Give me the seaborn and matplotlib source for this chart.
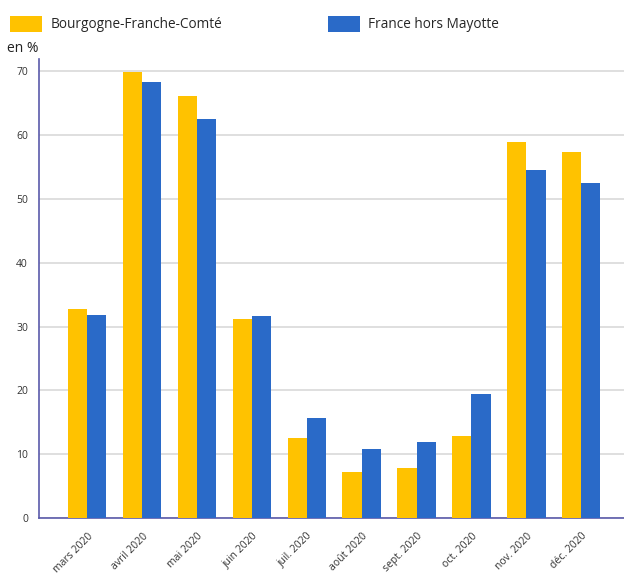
import matplotlib
matplotlib.use("Agg")
import matplotlib.pyplot as plt
import seaborn as sns
import pandas as pd
from matplotlib.patches import Patch

months = ["mars 2020", "avril 2020", "mai 2020", "juin 2020", "juil. 2020",
          "août 2020", "sept. 2020", "oct. 2020", "nov. 2020", "déc. 2020"]
bfc = [32.7, 69.8, 66.0, 31.2, 12.5, 7.3, 7.8, 12.9, 58.9, 57.3]
france = [31.8, 68.2, 62.5, 31.6, 15.7, 10.9, 11.9, 19.4, 54.5, 52.5]
series_names = ["Bourgogne-Franche-Comté", "France hors Mayotte"]
colors = ["#FFC200", "#2A6AC8"]

df = pd.DataFrame({
    "mois": months * 2,
    "valeur": bfc + france,
    "serie": [series_names[0]] * len(months) + [series_names[1]] * len(months),
})

sns.set_style("white")
plt.rcParams["font.family"] = ["Open Sans", "DejaVu Sans"]

fig = plt.figure(figsize=(6.24, 5.74), dpi=100)
ax = fig.add_axes([39 / 624, 55.7 / 574, 1 - 39 / 624, 459 / 574])

sns.barplot(data=df, x="mois", y="valeur", hue="serie", palette=colors,
            saturation=1, width=0.7, ax=ax, legend=False, zorder=3,
            linewidth=0, edgecolor="none")

ax.set_xlim(-0.88, 9.78)
ax.set_ylim(0, 71.8)
ax.set_yticks([0, 10, 20, 30, 40, 50, 60, 70])
ax.grid(axis="y", color="#dcdcdc", linewidth=1.3, zorder=0)
ax.set_axisbelow(True)
ax.set_xlabel("")
ax.set_ylabel("")
for s in ["top", "right"]:
    ax.spines[s].set_visible(False)
for s in ["left", "bottom"]:
    ax.spines[s].set_color("#5a5aaa")
    ax.spines[s].set_linewidth(1.2)
ax.tick_params(axis="y", length=6, color="#dcdcdc", width=1.3, labelsize=7.5,
               labelcolor="#333333", pad=2)
ax.tick_params(axis="x", length=0, labelsize=7.5, labelcolor="#333333", pad=9)
for lbl in ax.get_xticklabels():
    lbl.set_rotation(45)
    lbl.set_ha("right")
    lbl.set_rotation_mode("anchor")

handles = [Patch(facecolor=c, edgecolor="none") for c in colors]
leg_kw = dict(loc="center left", frameon=False, handlelength=2.35,
              handleheight=1.4, handletextpad=0.6, fontsize=9.8,
              borderaxespad=0, borderpad=0)
fig.legend(handles[:1], series_names[:1],
           bbox_to_anchor=(10 / 624, 1 - 24 / 574), **leg_kw)
fig.legend(handles[1:], series_names[1:],
           bbox_to_anchor=(328 / 624, 1 - 24 / 574), **leg_kw)

fig.text(7 / 624, 1 - 49 / 574, "en %", fontsize=10, va="center", ha="left",
         color="#222222")

fig.savefig("out.png", dpi=100)
